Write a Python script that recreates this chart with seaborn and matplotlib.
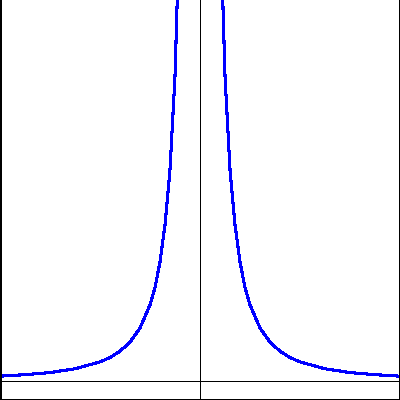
import pandas as pd
import matplotlib
matplotlib.use("Agg")
import matplotlib.pyplot as plt
import seaborn as sns

# values (left and right branches)
x_left = [-2.0, -1.75, -1.5, -1.25, -1.0, -0.9, -0.8, -0.7, -0.6, -0.5,
          -0.45, -0.4, -0.35, -0.3, -0.25, -0.2]
y_left = [0.25, 0.33, 0.44, 0.64, 1.0, 1.23, 1.56, 2.04, 2.78, 4.0,
          4.9, 6.25, 8.2, 11.1, 16.0, 25.0]
x_right = [0.2, 0.25, 0.3, 0.35, 0.4, 0.45, 0.5, 0.6, 0.7, 0.8,
           0.9, 1.0, 1.25, 1.5, 1.75, 2.0]
y_right = [25.0, 16.0, 11.1, 8.2, 6.25, 4.9, 4.0, 2.78, 2.04, 1.56,
           1.23, 1.0, 0.64, 0.44, 0.33, 0.25]

left = pd.DataFrame({"x": x_left, "y": y_left})
right = pd.DataFrame({"x": x_right, "y": y_right})

sns.set_style("white")
fig = plt.figure(figsize=(4, 4), dpi=100)
ax = fig.add_axes([0, 0, 1, 1])

for part in (left, right):
    sns.lineplot(data=part, x="x", y="y", sort=False, color="#0000ff",
                 linewidth=1.5, antialiased=False, ax=ax)

ax.axhline(0, color="black", linewidth=0.72, antialiased=False, zorder=1)
ax.axvline(0, color="black", linewidth=0.72, antialiased=False, zorder=1)

ax.set_xlim(-2, 2)
ax.set_ylim(-1, 20)
ax.set_xticks([])
ax.set_yticks([])
ax.set_xlabel("")
ax.set_ylabel("")

# frame on left, right and bottom only
for name, s in ax.spines.items():
    s.set_visible(name != "top")
    s.set_color("black")
    s.set_linewidth(1.0)
    s.set_antialiased(False)

fig.savefig("out.png", dpi=100)
